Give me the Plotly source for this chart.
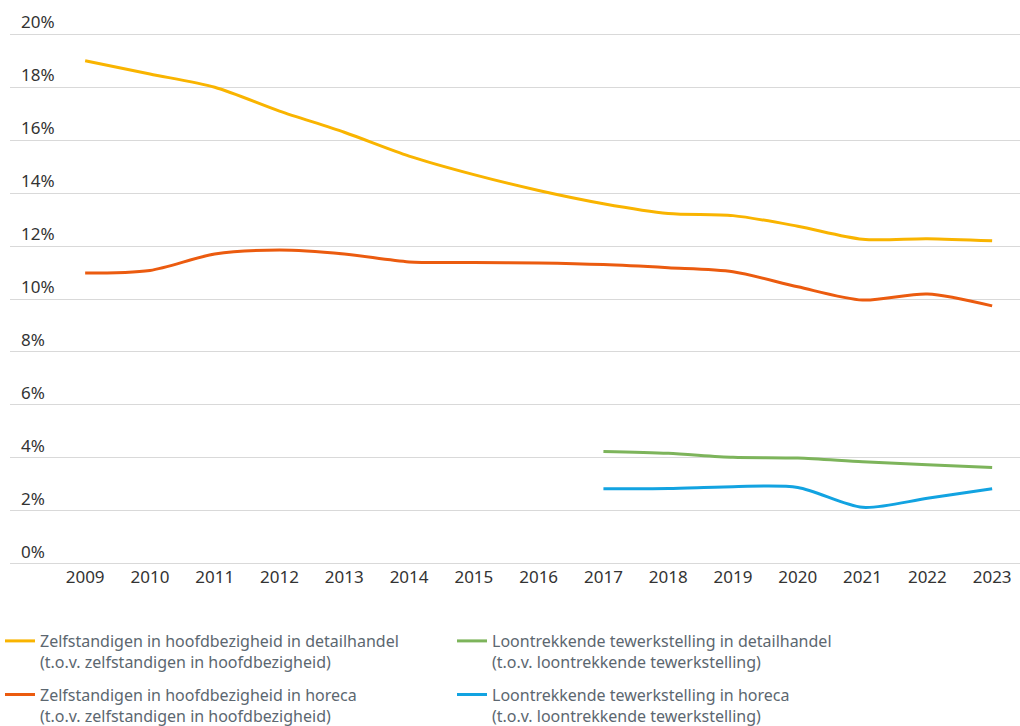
import plotly.graph_objects as go

years = list(range(2009, 2024))
zelf_detail = [19.0, 18.5, 18.0, 17.1, 16.3, 15.4, 14.7, 14.1, 13.6, 13.23, 13.15, 12.75, 12.26, 12.28, 12.2]
zelf_horeca = [10.98, 11.08, 11.7, 11.85, 11.7, 11.4, 11.38, 11.36, 11.3, 11.18, 11.03, 10.46, 9.96, 10.19, 9.74]
loon_years = list(range(2017, 2024))
loon_detail = [4.24, 4.17, 4.02, 3.99, 3.85, 3.74, 3.63]
loon_horeca = [2.83, 2.84, 2.91, 2.88, 2.13, 2.47, 2.83]

y_ticks = [0, 2, 4, 6, 8, 10, 12, 14, 16, 18, 20]
y_tick_labels = [f"{v}%" for v in y_ticks]

names = [
    "Zelfstandigen in hoofdbezigheid in detailhandel<br>(t.o.v. zelfstandigen in hoofdbezigheid)",
    "Zelfstandigen in hoofdbezigheid in horeca<br>(t.o.v. zelfstandigen in hoofdbezigheid)",
    "Loontrekkende tewerkstelling in detailhandel<br>(t.o.v. loontrekkende tewerkstelling)",
    "Loontrekkende tewerkstelling in horeca<br>(t.o.v. loontrekkende tewerkstelling)",
]
colors = ["#F9B400", "#EB5B0F", "#7DB45B", "#12A3E1"]
legend_ids = ["legend", "legend", "legend2", "legend2"]

fig = go.Figure()
series = [(years, zelf_detail), (years, zelf_horeca), (loon_years, loon_detail), (loon_years, loon_horeca)]
for i, ((xs, ys), name, col, lg) in enumerate(zip(series, names, colors, legend_ids)):
    fig.add_trace(go.Scatter(
        x=xs, y=ys, name=name, mode="lines",
        line=dict(color=col, width=3, shape="spline", smoothing=0.8),
        legend=lg, legendgroup=f"g{i}", hoverinfo="skip",
    ))

legend_style = dict(
    orientation="v", xref="container", yref="container",
    yanchor="top", xanchor="left",
    itemwidth=30, valign="top", tracegroupgap=9,
    font=dict(family="Noto Sans", size=16, color="#5C6770"),
    bgcolor="rgba(0,0,0,0)",
)

fig.update_layout(
    width=1020, height=726,
    margin=dict(l=10, r=0, t=33, b=161, autoexpand=False),
    paper_bgcolor="white", plot_bgcolor="white",
    font=dict(family="Noto Sans", size=17, color="#333333"),
    showlegend=True,
    legend=dict(legend_style, x=0.0, y=1 - 624 / 726),
    legend2=dict(legend_style, x=452 / 1020, y=1 - 624 / 726),
    xaxis=dict(
        range=[2007.84, 2023.43], tickmode="array", tickvals=years,
        ticktext=[str(y) for y in years], showgrid=False, zeroline=False,
        showline=False, ticks="", tickfont=dict(size=17, color="#333333"),
        fixedrange=True, automargin=False,
    ),
    yaxis=dict(
        range=[-0.05, 20.05], tickmode="array", tickvals=y_ticks, ticktext=y_tick_labels,
        showgrid=True, gridcolor="#D9D9D9", gridwidth=1, zeroline=False,
        showline=False, ticks="", ticklabelposition="inside top",
        ticklabeloverflow="allow", ticklabelstandoff=8,
        tickfont=dict(size=17, color="#333333"), fixedrange=True, automargin=False,
    ),
)

fig.write_html(
    "out.html",
    config={"displayModeBar": False, "staticPlot": True},
    post_script="document.body.style.margin='0px';document.body.style.overflow='hidden';",
)
